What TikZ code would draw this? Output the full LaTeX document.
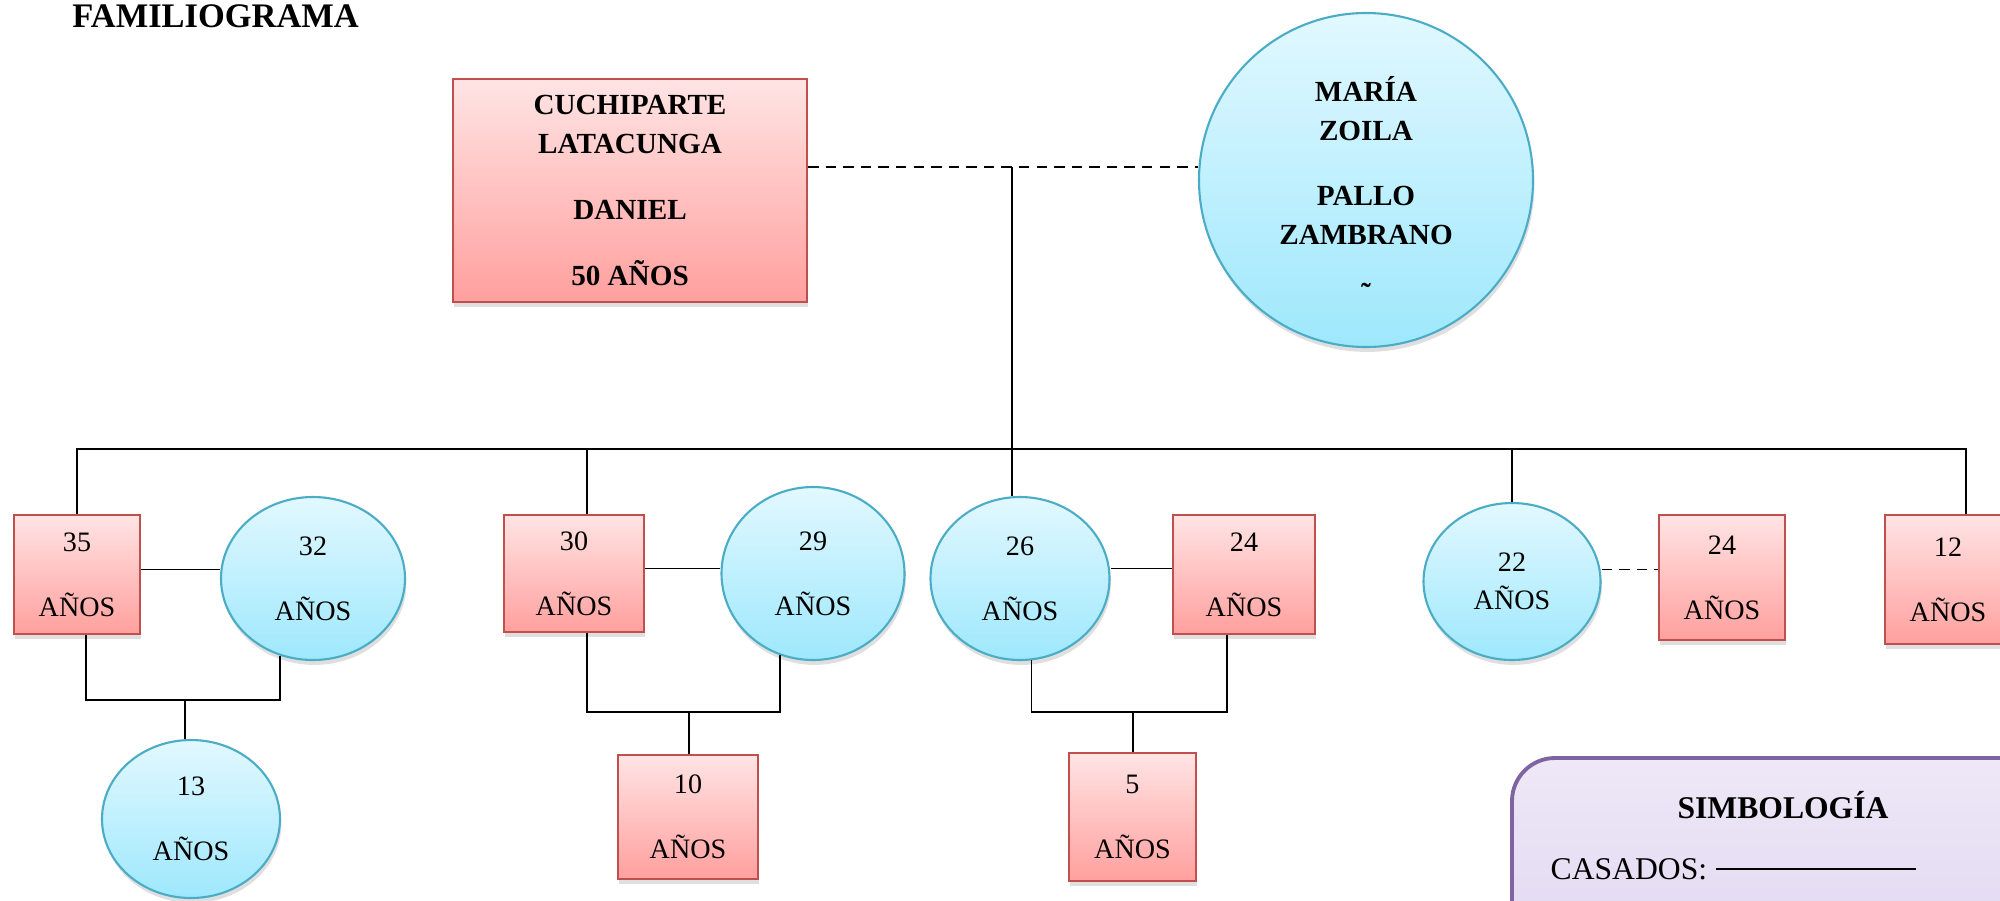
\documentclass[tikz,border=0pt]{standalone}
\usepackage{fontspec}
\setmainfont{Liberation Serif}
\usetikzlibrary{shapes,shadows}

\definecolor{rojoborde}{RGB}{192,80,77}
\definecolor{rojoarriba}{RGB}{255,228,228}
\definecolor{rojoabajo}{RGB}{255,160,158}
\definecolor{azulborde}{RGB}{75,172,198}
\definecolor{azularriba}{RGB}{226,248,255}
\definecolor{azulabajo}{RGB}{158,232,252}
\definecolor{lilaborde}{RGB}{128,100,162}
\definecolor{lilaarriba}{RGB}{238,232,247}
\definecolor{lilaabajo}{RGB}{224,214,240}

\begin{document}
\begin{tikzpicture}[
  varon/.style={rectangle, draw=rojoborde, line width=0.6pt, top color=rojoarriba,
    bottom color=rojoabajo, align=center, inner sep=0pt,
    drop shadow={shadow xshift=0.4pt, shadow yshift=-1.4pt, opacity=0.25}},
  mujer/.style={ellipse, draw=azulborde, line width=0.6pt, top color=azularriba,
    bottom color=azulabajo, align=center, inner sep=0pt,
    drop shadow={shadow xshift=0.4pt, shadow yshift=-1.4pt, opacity=0.25}},
  edad/.style={font=\fontsize{8}{18.5}\selectfont},
  padres/.style={font=\bfseries\fontsize{8.3}{11.1}\selectfont},
  lazo/.style={line width=0.55pt},
  union/.style={line width=0.55pt, dash pattern=on 3pt off 2pt}]
\useasboundingbox (0,0) rectangle (20,-9);
\clip (0,0) rectangle (20,-9);

\node[anchor=base west, font=\bfseries\fontsize{9.8}{12}\selectfont] (titulo) at (0.60,-0.27) {FAMILIOGRAMA};

% padres
\node[varon, padres, minimum width=3.54cm, minimum height=2.23cm] (padre) at (6.30,-1.905)
  {CUCHIPARTE\\LATACUNGA\\[7.6pt]DANIEL\\[7.7pt]50 AÑOS};
\node[mujer, minimum width=3.34cm, minimum height=3.34cm] (madre) at (13.66,-1.80) {};
\node[padres, align=center, inner sep=0pt] (nombre) at ([yshift=-1mm]madre.center)
  {MARÍA\\ZOILA\\[7.4pt]PALLO\\ZAMBRANO\\[5.5pt]\char"02DC};

% hijos
\node[varon, edad, minimum width=1.26cm, minimum height=1.19cm] (h35) at (0.77,-5.745) {35\\AÑOS};
\node[mujer, edad, minimum width=1.84cm, minimum height=1.63cm] (m32) at (3.13,-5.785) {32\\AÑOS};
\node[varon, edad, minimum width=1.40cm, minimum height=1.17cm] (h30) at (5.74,-5.735) {30\\AÑOS};
\node[mujer, edad, minimum width=1.83cm, minimum height=1.73cm] (m29) at (8.13,-5.735) {29\\AÑOS};
\node[mujer, edad, minimum width=1.79cm, minimum height=1.63cm] (m26) at (10.20,-5.785) {26\\AÑOS};
\node[varon, edad, minimum width=1.42cm, minimum height=1.19cm] (h24a) at (12.44,-5.745) {24\\AÑOS};
\node[mujer, font=\fontsize{8}{10.8}\selectfont, minimum width=1.77cm, minimum height=1.57cm] (m22) at (15.12,-5.815) {22\\AÑOS};
\node[varon, edad, minimum width=1.26cm, minimum height=1.25cm] (h24b) at (17.22,-5.775) {24\\AÑOS};
\node[varon, edad, minimum width=1.26cm, minimum height=1.29cm] (h12) at (19.48,-5.795) {12\\AÑOS};

% nietos
\node[mujer, edad, minimum width=1.78cm, minimum height=1.58cm] (m13) at (1.91,-8.19) {13\\AÑOS};
\node[varon, edad, minimum width=1.40cm, minimum height=1.24cm] (h10) at (6.88,-8.17) {10\\AÑOS};
\node[varon, edad, minimum width=1.27cm, minimum height=1.28cm] (h5) at (11.325,-8.17) {5\\AÑOS};

\coordinate (pareja) at (10.12,-1.67);
\coordinate (rail) at (0,-4.49);
\draw[union] (padre.east |- pareja) -- (madre.west |- pareja);
\draw[lazo] (pareja) -- (pareja |- m26.north);
\draw[lazo] (h35.north) -- (h35.north |- rail) -- ([xshift=1.8mm]h12.north |- rail) -- ([xshift=1.8mm]h12.north);
\draw[lazo] ([xshift=1.3mm]h30.north |- rail) -- ([xshift=1.3mm]h30.north);
\draw[lazo] (m22.north |- rail) -- (m22.north);

\draw[lazo] ([yshift=0.5mm]h35.east) -- ([yshift=0.5mm]h35.east -| m32.west);
\draw[lazo] ([yshift=0.5mm]h30.east) -- ([yshift=0.5mm]h30.east -| m29.west);
\draw[lazo] ([yshift=1mm]m26.east) -- ([yshift=1mm]m26.east -| h24a.west);
\draw[union] ([yshift=1.2mm]m22.east) -- ([yshift=1.2mm]m22.east -| h24b.west);

\coordinate (j13) at (1.85,-7.00);
\draw[lazo] ([xshift=0.9mm]h35.south) |- (j13) -| (m32.247);
\draw[lazo] (j13) -- (j13 |- m13.north);
\coordinate (j10) at (6.89,-7.12);
\draw[lazo] ([xshift=1.3mm]h30.south) |- (j10) -| (m29.248);
\draw[lazo] (j10) -- (j10 |- h10.north);
\coordinate (j5) at (11.33,-7.12);
\draw[lazo] (m26.278) |- (j5) -| ([xshift=-1.7mm]h24a.south);
\draw[lazo] (j5) -- (j5 |- h5.north);

% simbologia
\draw[draw=lilaborde, line width=1.1pt, top color=lilaarriba, bottom color=lilaabajo,
  rounded corners=4.3mm, drop shadow={shadow xshift=0pt, shadow yshift=0pt, opacity=0.2}]
  (15.12,-7.58) rectangle (20.8,-9.8);
\node[font=\bfseries\fontsize{9}{11}\selectfont] (simb) at (17.83,-8.05) {SIMBOLOGÍA};
\node[anchor=west, inner sep=0pt, font=\fontsize{9}{11}\selectfont] (cas) at (15.50,-8.69) {CASADOS:};
\draw[lazo] ([xshift=0.8mm]cas.east) -- ++(2.0,0);
\end{tikzpicture}
\end{document}
